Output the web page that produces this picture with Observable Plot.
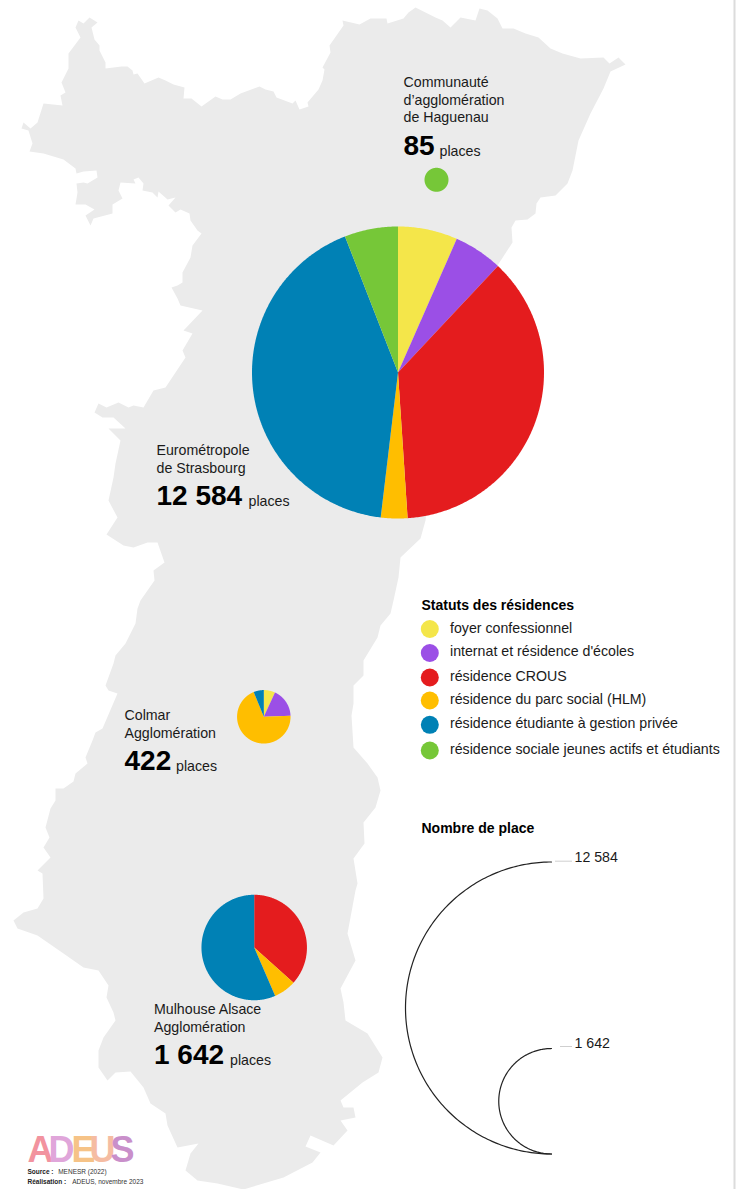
<!DOCTYPE html>
<html><head><meta charset="utf-8">
<script src="https://cdn.jsdelivr.net/npm/d3@7"></script>
<script src="https://cdn.jsdelivr.net/npm/@observablehq/plot@0.6"></script>
<style>html,body{margin:0;padding:0;background:#fff}svg{display:block}</style>
</head><body><div id="chart"></div>
<script>
// ---- data ----
const statuses = ["foyer confessionnel","internat et résidence d'écoles","résidence CROUS","résidence du parc social (HLM)","résidence étudiante à gestion privée","résidence sociale jeunes actifs et étudiants"];
const statusColors = ["#f4e64a","#9b4fe6","#e41c1e","#ffbe00","#0081b5","#76c738"];
const territories = ["Communauté d'agglomération de Haguenau","Eurométropole de Strasbourg","Colmar Agglomération","Mulhouse Alsace Agglomération"];
const placesHaguenau  = [0,0,0,0,0,85];
const placesStrasbourg = [830,680,4650,370,5310,744];
const placesColmar    = [29,74,0,293,26,0];
const placesMulhouse  = [0,0,601,113,928,0];
const sizeLegendValues = [12584,1642];
const sizeLegendLabels = ["12 584","1 642"];
const regionOutline = [[78,20],[83,23],[89,17],[97,22],[91,27],[94,39],[99,45],[99,50],[105,62],[105,68],[121,66],[127,66],[132,70],[133,74],[137,73],[144,83],[158,77],[165,80],[173,84],[184,87],[183,98],[191,98],[201,106],[215,96],[222,99],[230,99],[240,93],[259,86],[265,89],[273,91],[276,97],[292,103],[295,100],[299,109],[308,106],[307,102],[318,89],[322,80],[324,69],[322,67],[330,52],[329,45],[343,25],[342,20],[359,24],[370,18],[386,18],[387,23],[403,18],[408,12],[415,7],[423,11],[435,17],[442,20],[450,27],[460,17],[475,20],[479,8],[487,10],[497,18],[502,28],[513,28],[525,33],[538,37],[550,48],[562,53],[580,58],[603,57],[609,63],[618,57],[625,64],[610,71],[603,88],[590,113],[578,140],[572,170],[567,183],[555,195],[540,197],[536,203],[535,213],[527,219],[515,220],[511,227],[512,242],[497,265],[470,330],[450,400],[430,470],[425,520],[420,538],[400,557],[398,577],[393,600],[390,613],[380,625],[377,637],[363,660],[363,675],[353,685],[353,703],[351,715],[353,747],[367,763],[377,777],[380,790],[375,807],[363,822],[364,843],[353,858],[357,883],[355,890],[347,933],[355,960],[340,988],[343,1002],[345,1020],[367,1033],[382,1057],[378,1072],[362,1082],[340,1100],[343,1107],[353,1107],[355,1117],[340,1120],[347,1130],[333,1145],[310,1135],[305,1146],[320,1152],[312,1162],[283,1177],[243,1189],[217,1183],[197,1180],[185,1170],[190,1153],[198,1143],[177,1147],[167,1125],[165,1113],[150,1103],[143,1087],[130,1071],[115,1072],[107,1080],[98,1067],[98,1050],[103,1037],[115,1020],[113,1012],[106,997],[108,985],[98,970],[83,967],[63,953],[37,935],[17,928],[13,920],[23,912],[37,908],[43,898],[42,873],[37,870],[50,857],[43,847],[49,837],[45,827],[50,808],[55,800],[55,788],[63,788],[73,781],[75,773],[87,763],[85,757],[92,740],[95,732],[102,728],[117,693],[108,690],[105,685],[113,663],[115,655],[125,643],[135,623],[137,608],[140,600],[154,580],[153,570],[164,562],[157,542],[147,542],[133,547],[123,545],[106,534],[117,517],[108,500],[113,477],[115,463],[120,440],[108,428],[125,428],[113,417],[102,417],[94,412],[98,403],[106,407],[118,402],[128,407],[133,405],[143,407],[153,390],[165,387],[185,357],[182,350],[192,333],[183,330],[202,310],[180,305],[177,298],[171,287],[177,285],[182,282],[182,272],[190,257],[192,245],[201,233],[197,230],[190,220],[189,213],[180,209],[175,212],[168,205],[175,197],[167,199],[158,191],[157,197],[152,192],[142,190],[143,183],[138,177],[133,179],[135,183],[120,182],[118,190],[122,198],[112,204],[112,213],[93,218],[90,225],[85,215],[94,209],[85,204],[75,204],[77,192],[76,183],[83,182],[87,183],[97,177],[96,170],[83,171],[76,173],[75,168],[63,159],[43,153],[29,151],[32,143],[28,130],[21,128],[23,122],[30,128],[37,122],[43,103],[62,105],[60,95],[65,92],[61,82],[65,74],[68,68],[68,53],[80,37],[75,27]];

// ---- layout (separate from the values) ----
const W = 740, H = 1189;
const radius = d3.scaleSqrt().domain([0,12584]).range([0,146]);
const pieCentres = [[436,179.3],[397.5,372],[263.3,716.3],[253.7,947]];
const pieValues = [placesHaguenau,placesStrasbourg,placesColmar,placesMulhouse];

// pie slices, through d3.pie, as closed polygons
const slices = [];
pieValues.forEach((vals,p) => {
  const [cx,cy] = pieCentres[p];
  const r = radius(d3.sum(vals));
  const arcs = d3.pie().sort(null)(vals);
  arcs.forEach((a,i) => {
    if (a.value === 0) return;
    const id = p+"-"+i, status = statuses[i];
    const full = a.endAngle - a.startAngle > 6.28;
    if (!full) slices.push({id,status,x:cx,y:cy});
    const n = Math.max(2,Math.ceil((a.endAngle-a.startAngle)/0.01));
    for (let k=0;k<=n;k++){
      const t = a.startAngle + (a.endAngle-a.startAngle)*k/n;
      slices.push({id,status,x:cx+r*Math.sin(t),y:cy-r*Math.cos(t)});
    }
  });
});

// size legend half circles, bottom-aligned
const sizeBaseX = 551, sizeBaseY = 1153.5;
const sizeArcs = [];
sizeLegendValues.forEach((v,i)=>{
  const r = radius(v);
  for (let k=0;k<=180;k++){
    const t = Math.PI*k/180;
    sizeArcs.push({id:i,x:sizeBaseX-r*Math.sin(t),y:sizeBaseY-r-r*Math.cos(t)});
  }
});
const sizeTicks = [{x1:555,x2:572,y:860.7},{x1:560,x2:572,y:1046}];
const sizeLabelsPos = [{x:574,y:857,t:sizeLegendLabels[0]},{x:574,y:1043,t:sizeLegendLabels[1]}];

const legendDotY = [628.5,652.5,677,700,724.3,750];
const legendTextY = [628,651,676,699,723,749];
const legendRows = statuses.map((s,i)=>({s,dy:legendDotY[i],ty:legendTextY[i]}));

const nameLines = [
 {x:403,y:82,t:"Communauté"},{x:403,y:100,t:"d’agglomération"},{x:403,y:117,t:"de Haguenau"},
 {x:156,y:450,t:"Eurométropole"},{x:156,y:468,t:"de Strasbourg"},
 {x:124,y:715,t:"Colmar"},{x:124,y:733,t:"Agglomération"},
 {x:153.5,y:1009,t:"Mulhouse Alsace"},{x:153.5,y:1027,t:"Agglomération"}
];
const totals = [
 {x:403,y:146,t:"85",px:439},
 {x:156,y:496,t:"12 584",px:248},
 {x:124,y:761,t:"422",px:175.5},
 {x:153.5,y:1055,t:"1 642",px:229.5}
];
const logoLetters = [
 {x:27,t:"A",c:"#f2939f"},{x:48,t:"D",c:"#e0a6da"},{x:71,t:"E",c:"#f6c387"},{x:89,t:"U",c:"#f5bca2"},{x:110,t:"S",c:"#c98fca"}
];

const txt = (data,o) => Plot.text(data,{text:"t",x:"x",y:"y",textAnchor:"start",lineAnchor:"middle",...o});

const chart = Plot.plot({
  width:W,height:H,margin:0,
  x:{domain:[0,W],range:[0,W],axis:null},
  y:{domain:[0,H],range:[0,H],axis:null},
  color:{domain:statuses,range:statusColors},
  style:{fontFamily:"'Liberation Sans',Arial,sans-serif",background:"#fff",overflow:"hidden"},
  marks:[
    Plot.line([...regionOutline,regionOutline[0]],{x:d=>d[0],y:d=>d[1],fill:"#ebebeb",stroke:"none",curve:"linear"}),
    Plot.ruleX([734],{stroke:"#dcdcdc",strokeWidth:2}),
    Plot.line(slices,{x:"x",y:"y",z:"id",fill:"status",stroke:"none",curve:"linear"}),
    txt(nameLines,{fontSize:14.2,fill:"#1a1a1a"}),
    txt(totals,{fontSize:28,fontWeight:"bold",fill:"#000"}),
    Plot.text(totals,{x:"px",y:d=>d.y+5,text:()=>"places",textAnchor:"start",lineAnchor:"middle",fontSize:14.2,fill:"#1a1a1a"}),
    // legend
    txt([{x:421,y:605,t:"Statuts des résidences"},{x:421,y:828,t:"Nombre de place"}],{fontSize:14,fontWeight:"bold",fill:"#000"}),
    Plot.dot(legendRows,{x:()=>429.3,y:"dy",r:9,fill:"s",stroke:"none"}),
    Plot.text(legendRows,{x:()=>449.5,y:"ty",text:"s",textAnchor:"start",lineAnchor:"middle",fontSize:14.2,fill:"#1a1a1a"}),
    // size legend
    Plot.line(sizeArcs,{x:"x",y:"y",z:"id",stroke:"#222",strokeWidth:1.2,curve:"linear"}),
    Plot.ruleY(sizeTicks,{x1:"x1",x2:"x2",y:"y",stroke:"#cfcfcf",strokeWidth:1}),
    txt(sizeLabelsPos,{fontSize:14.2,fill:"#1a1a1a"}),
    // logo and credits
    Plot.text(logoLetters,{x:"x",y:()=>1150,text:"t",fill:"c",textAnchor:"start",lineAnchor:"middle",fontSize:36,fontFamily:"'Liberation Sans Narrow','Liberation Sans'",fontWeight:"bold"}),
    txt([{x:27,y:1171,t:"Source :"},{x:27,y:1181,t:"Réalisation :"}],{fontSize:6.5,fontWeight:"bold",fill:"#222"}),
    txt([{x:57.7,y:1171,t:"MENESR (2022)"},{x:71.7,y:1181,t:"ADEUS, novembre 2023"}],{fontSize:6.5,fill:"#333"})
  ]
});
document.getElementById("chart").append(chart);
</script></body></html>
